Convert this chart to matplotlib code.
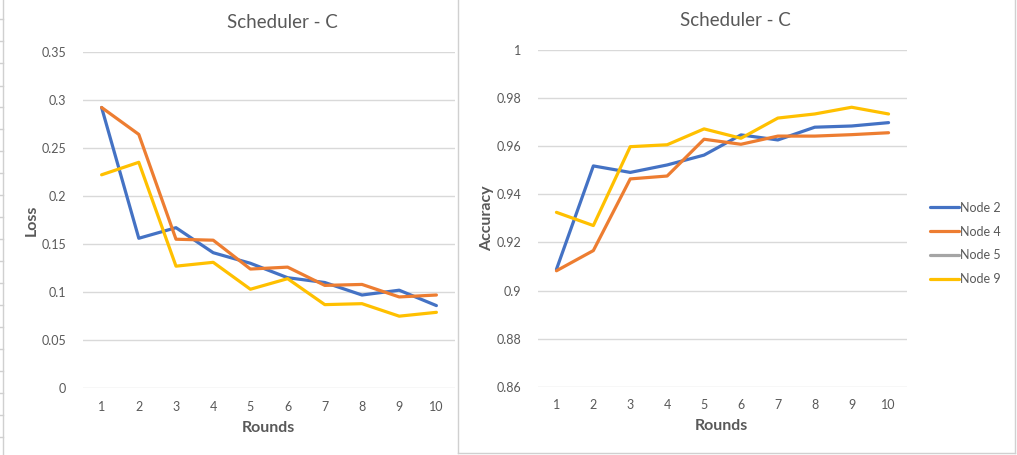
import numpy as np
import matplotlib
matplotlib.use('Agg')
from matplotlib import pyplot as plt
from matplotlib.lines import Line2D

# values
rounds = [1, 2, 3, 4, 5, 6, 7, 8, 9, 10]
node_names = ['Node 2', 'Node 4', 'Node 5', 'Node 9']

loss_node2 = [0.292, 0.156, 0.167, 0.141, 0.130, 0.115, 0.110, 0.097, 0.102, 0.086]
loss_node4 = [0.292, 0.264, 0.155, 0.154, 0.124, 0.126, 0.107, 0.108, 0.095, 0.097]
loss_node5 = []
loss_node9 = [0.222, 0.235, 0.127, 0.131, 0.103, 0.114, 0.087, 0.088, 0.075, 0.079]

acc_node2 = [0.9088, 0.9518, 0.9491, 0.9522, 0.9563, 0.9647, 0.9626, 0.9679, 0.9684, 0.9698]
acc_node4 = [0.9082, 0.9166, 0.9464, 0.9476, 0.9629, 0.9608, 0.9642, 0.9642, 0.9648, 0.9656]
acc_node5 = []
acc_node9 = [0.9325, 0.9270, 0.9598, 0.9606, 0.9672, 0.9633, 0.9717, 0.9734, 0.9762, 0.9734]

loss_ticks = [0, 0.05, 0.1, 0.15, 0.2, 0.25, 0.3, 0.35]
loss_ticklabels = ['0', '0.05', '0.1', '0.15', '0.2', '0.25', '0.3', '0.35']
acc_ticks = [0.86, 0.88, 0.9, 0.92, 0.94, 0.96, 0.98, 1.0]
acc_ticklabels = ['0.86', '0.88', '0.9', '0.92', '0.94', '0.96', '0.98', '1']

colors = ['#4472C4', '#ED7D31', '#A5A5A5', '#FFC000']
txt = '#595959'
grid = '#D9D9D9'

plt.rcParams['font.family'] = ['Lato', 'DejaVu Sans']

W, H = 1017, 455
fig = plt.figure(figsize=(W / 100, H / 100), dpi=100)
fig.patch.set_facecolor('white')


def fx(px):
    return px / W


def fy(py):
    return 1 - py / H


def setup(ax, ticks, labels, ylim):
    ax.set_xlim(0.5, 10.5)
    ax.set_ylim(*ylim)
    ax.set_yticks(ticks)
    ax.set_yticklabels(labels)
    ax.set_xticks(rounds)
    ax.set_xticklabels([str(r) for r in rounds])
    for s in ax.spines.values():
        s.set_visible(False)
    ax.grid(axis='y', color=grid, linewidth=1.0)
    ax.set_axisbelow(True)
    ax.tick_params(axis='both', length=0, labelsize=9, labelcolor=txt)
    ax.tick_params(axis='y', pad=12)
    ax.tick_params(axis='x', pad=9)


# left chart: loss
ax1 = fig.add_axes([fx(83), fy(388.3), fx(455 - 83), (388.3 - 51.7) / H])
setup(ax1, loss_ticks, loss_ticklabels, (0, 0.35))
for vals, c, name in zip([loss_node2, loss_node4, loss_node5, loss_node9], colors, node_names):
    ax1.plot(rounds[:len(vals)], vals, color=c, linewidth=2.3, label=name, solid_capstyle='round')

# right chart: accuracy
ax2 = fig.add_axes([fx(538), fy(386.7), fx(907 - 538), (386.7 - 50) / H])
setup(ax2, acc_ticks, acc_ticklabels, (0.86, 1.0))
for vals, c, name in zip([acc_node2, acc_node4, acc_node5, acc_node9], colors, node_names):
    ax2.plot(rounds[:len(vals)], vals, color=c, linewidth=2.3, label=name, solid_capstyle='round')

leg = ax2.legend(loc='center left', bbox_to_anchor=(fx(930), fy(243.5)),
                 bbox_transform=fig.transFigure, frameon=False, fontsize=9,
                 handlelength=2.3, handletextpad=0.1, labelspacing=0.95,
                 borderpad=0, borderaxespad=0)
for t in leg.get_texts():
    t.set_color(txt)

# titles and axis labels
fig.text(fx(282), fy(22), 'Scheduler - C', ha='center', va='center', fontsize=13.5, color=txt)
fig.text(fx(735), fy(21), 'Scheduler - C', ha='center', va='center', fontsize=13.5, color=txt)
fig.text(fx(32), fy(220), 'Loss', ha='center', va='center', rotation=90,
         fontsize=11.5, fontweight='bold', color=txt)
fig.text(fx(487), fy(218), 'Accuracy', ha='center', va='center', rotation=90,
         fontsize=11.5, fontweight='bold', color=txt)
fig.text(fx(268), fy(428), 'Rounds', ha='center', va='center',
         fontsize=11.5, fontweight='bold', color=txt)
fig.text(fx(721), fy(426), 'Rounds', ha='center', va='center',
         fontsize=11.5, fontweight='bold', color=txt)

# chart area borders and spreadsheet edge
border = '#D0D0D0'
fig.add_artist(Line2D([fx(3), fx(3)], [0, 1], color=border, linewidth=1))
fig.add_artist(Line2D([fx(458), fx(458)], [fy(453), 1], color=border, linewidth=1))
fig.add_artist(Line2D([fx(458), fx(1015)], [fy(453), fy(453)], color=border, linewidth=1))
fig.add_artist(Line2D([fx(1015), fx(1015)], [fy(453), 1], color=border, linewidth=1))
for ry in [19, 41, 63, 86, 107, 129, 151, 173, 195, 217, 239, 261, 283, 305, 327, 349, 371, 393, 415, 437]:
    fig.add_artist(Line2D([0, fx(3)], [fy(ry), fy(ry)], color=border, linewidth=1))

plt.savefig('out.png', dpi=100)
